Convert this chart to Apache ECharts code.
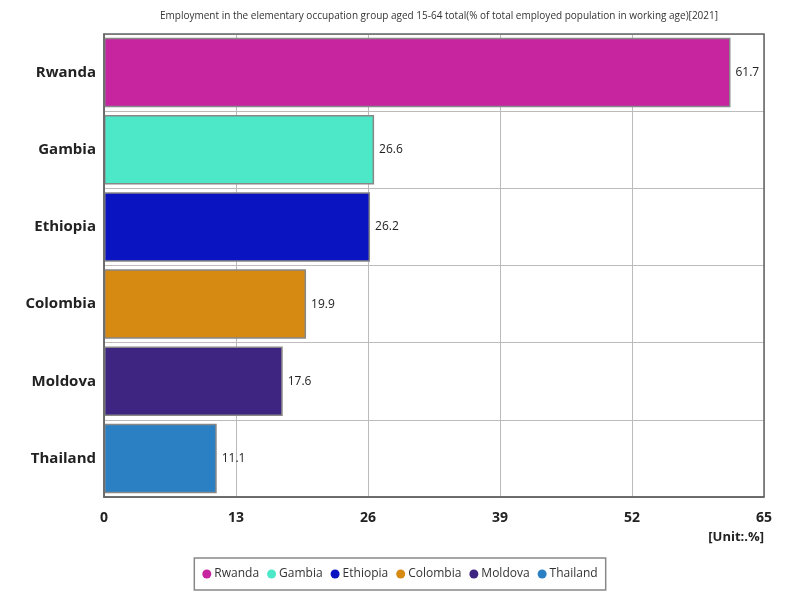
<!DOCTYPE html>
<html>
<head>
<meta charset="utf-8">
<script src="https://cdn.jsdelivr.net/npm/echarts@6/dist/echarts.min.js"></script>
<style>
html, body { margin: 0; padding: 0; background: #fff; }
#chart { width: 800px; height: 600px; }
</style>
</head>
<body>
<div id="chart"></div>
<script>
//数据
const countries = ['Rwanda', 'Gambia', 'Ethiopia', 'Colombia', 'Moldova', 'Thailand'];
const values = [61.7, 26.6, 26.2, 19.9, 17.6, 11.1];
const colors = ['#c724a0', '#4de8c8', '#0a14c0', '#d68a12', '#3f2582', '#2b80c4'];
const xTicks = [0, 13, 26, 39, 52, 65];

const chart = echarts.init(document.getElementById('chart'));

//每个国家一个系列，方便图例显示
let series = [];
for (var i = 0; i < countries.length; i++) {
    var data = countries.map(function (c, j) {
        return j == i ? values[i] : '-';
    });
    series.push({
        name: countries[i],
        type: 'bar',
        stack: 'all',
        barCategoryGap: '10%',
        data: data,
        itemStyle: {
            color: colors[i],
            borderColor: '#888',
            borderWidth: 1.5
        },
        label: {
            show: true,
            position: 'right',
            color: '#222',
            fontSize: 12,
            fontFamily: 'Open Sans'
        }
    });
}

const option = {
    animation: false,
    title: {
        text: 'Employment in the elementary occupation group aged 15-64 total(% of total employed population in working age)[2021]',
        left: 434,
        top: 6,
        textAlign: 'center',
        textStyle: { fontSize: 10, fontWeight: 'normal', color: '#333', fontFamily: 'Open Sans' }
    },
    legend: {
        data: countries,
        bottom: 10,
        left: 'center',
        icon: 'circle',
        itemWidth: 9,
        itemHeight: 9,
        itemGap: 8,
        padding: [10, 8],
        borderColor: '#888',
        borderWidth: 1.5,
        itemStyle: { borderWidth: 0 },
        textStyle: { fontSize: 12, color: '#333', fontFamily: 'Open Sans', padding: [0, 0, 0, -2] }
    },
    grid: { left: 104, right: 36, top: 34, bottom: 103 },
    xAxis: {
        type: 'value',
        min: xTicks[0],
        max: xTicks[xTicks.length - 1],
        interval: 13,
        axisLine: { show: true, lineStyle: { color: '#666', width: 1.5 } },
        axisTick: { show: false },
        splitLine: { show: true, lineStyle: { color: '#bbb' } },
        axisLabel: { fontSize: 14, fontWeight: 'bold', color: '#222', margin: 14, fontFamily: 'Open Sans' },
        name: '[Unit:.%]',
        nameLocation: 'end',
        nameGap: 0,
        nameTextStyle: { fontSize: 13, fontWeight: 'bold', color: '#222', align: 'right', verticalAlign: 'top', padding: [34, 0, 0, 0], fontFamily: 'Open Sans' }
    },
    yAxis: {
        type: 'category',
        inverse: true,
        data: countries,
        axisLine: { show: true, lineStyle: { color: '#666', width: 1.5 } },
        axisTick: { show: false },
        splitLine: { show: true, lineStyle: { color: '#bbb' } },
        axisLabel: { fontSize: 15, fontWeight: 'bold', color: '#222', margin: 8, fontFamily: 'Open Sans' }
    },
    //外框
    graphic: [{
        type: 'rect',
        shape: { x: 104, y: 34, width: 660, height: 463 },
        style: { fill: 'none', stroke: '#666', lineWidth: 1.5 },
        silent: true,
        z: 10
    }],
    series: series
};

chart.setOption(option);
</script>
</body>
</html>
